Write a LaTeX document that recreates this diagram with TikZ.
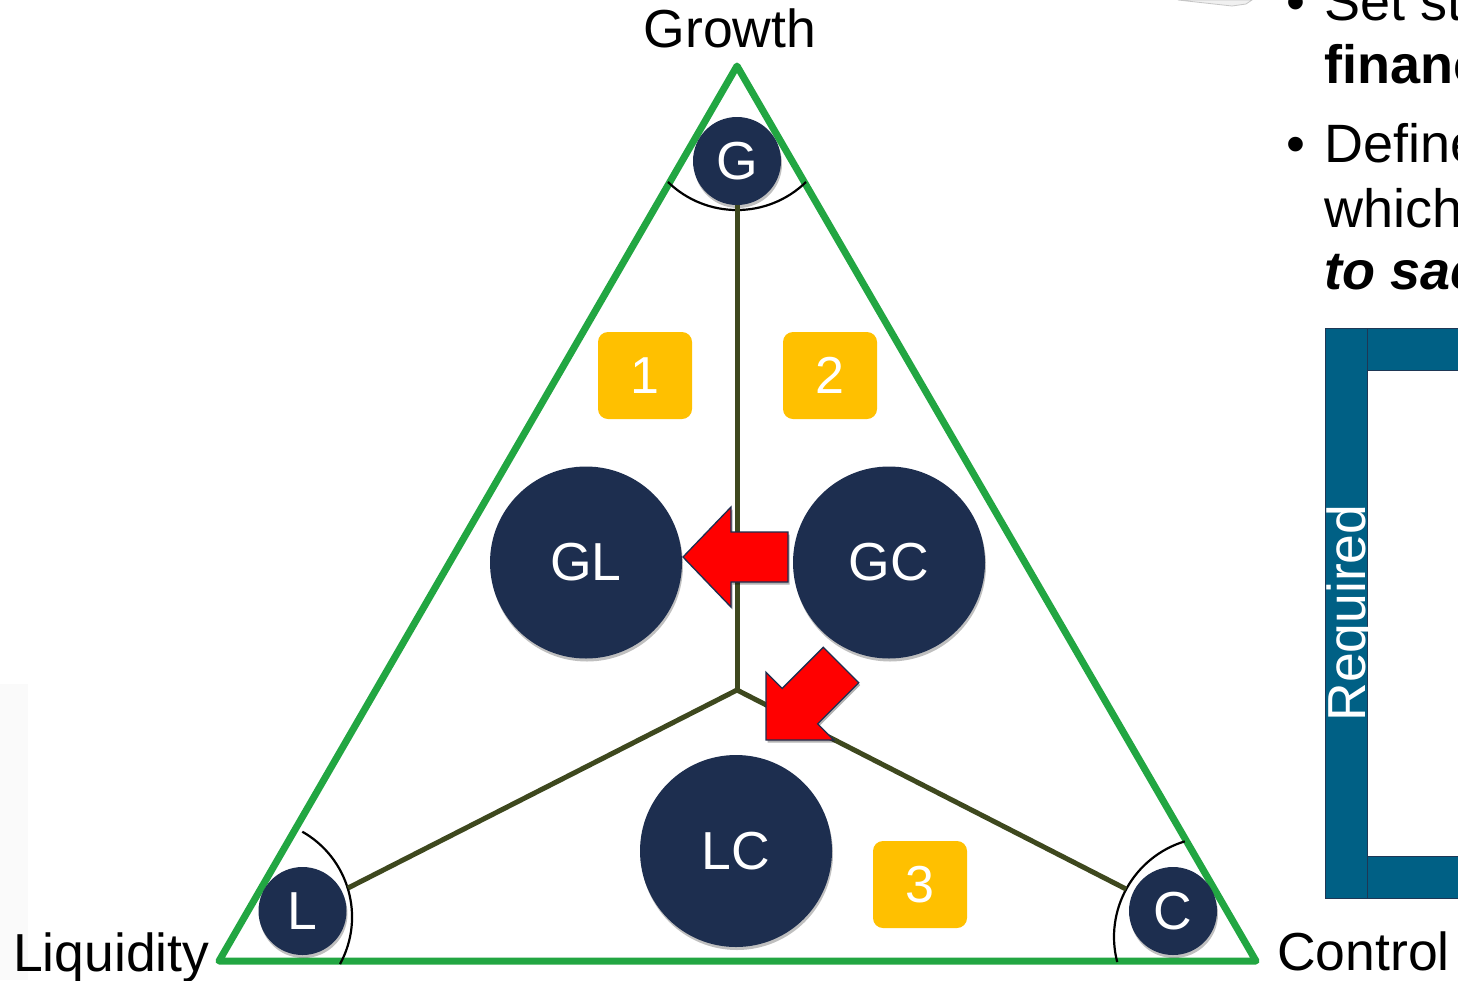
\documentclass[tikz,border=0pt]{standalone}
\usepackage{fontspec}
\setmainfont{Liberation Sans}
\usetikzlibrary{shadows}
\definecolor{tri}{RGB}{34,166,66}
\definecolor{navy}{RGB}{29,46,79}
\definecolor{olive}{RGB}{62,72,30}
\definecolor{gold}{RGB}{255,192,0}
\definecolor{barfill}{RGB}{0,96,133}
\definecolor{barline}{RGB}{30,55,85}
\begin{document}
\begin{tikzpicture}[x=1pt,y=-1pt,
  bigtext/.style={inner sep=0pt, font=\fontsize{53.5}{53.5}\selectfont},
  sidetext/.style={inner sep=0pt, anchor=base west, font=\fontsize{54}{54}\selectfont},
  dot/.style={circle, fill=navy, text=white, minimum size=88pt, inner sep=0pt,
    font=\fontsize{53.5}{53.5}\selectfont,
    drop shadow={shadow xshift=1pt, shadow yshift=-3pt, opacity=0.25, fill=black}},
  pairdot/.style={dot, minimum size=192pt},
  tagbox/.style={rectangle, rounded corners=10pt, fill=gold, text=white,
    minimum width=94pt, minimum height=87pt, inner sep=0pt,
    font=\fontsize{52}{52}\selectfont},
  yline/.style={olive, line width=5pt},
  arcline/.style={black, line width=2.2pt},
  redarrow/.style={fill=red, draw=navy, line width=1.3pt, line join=miter,
    drop shadow={shadow xshift=1.5pt, shadow yshift=-2.5pt, opacity=0.3, fill=black}},
  barrect/.style={fill=barfill, draw=barline, line width=1pt}
]
\useasboundingbox (0,0) rectangle (1458,980);
\clip (0,0) rectangle (1458,980);
\fill[white] (0,0) rectangle (1458,980);
% faint remnants at the edges
\fill[black!2] (0,684) rectangle (28,980);
\filldraw[fill=gray!12, draw=gray!45, line width=0.8pt] (1178,0) -- (1232,6) -- (1246,4) -- (1252,0) -- cycle;

% triangle
\coordinate (top) at (737,66);
\coordinate (bl) at (219,961);
\coordinate (br) at (1256,961);
\draw[tri, line width=7pt, line join=round] (top) -- (bl) -- (br) -- cycle;

% corner labels
\node[bigtext, anchor=base] (growth) at (730,47) {Growth};
\node[bigtext, anchor=base west] (liq) at (13,971) {Liquidity};
\node[bigtext, anchor=base west] (ctrl) at (1277,970) {Control};

% hub and arcs
\coordinate (hub) at (737,690);
\coordinate (lend) at (348,888);
\coordinate (cend) at (1126,889);
\draw[arcline] (806,182) arc[start angle=45.8, end angle=134.2, radius=99];
\draw[arcline] (302.3,831.7) arc[start angle=-60.5, end angle=28.7, radius=98];
\draw[arcline] (1117.2,962) arc[start angle=165.5, end angle=253, radius=100];

% corner circles
\node[dot] (G) at (737,161) {G};
\node[dot] (L) at (302.5,911) {L};
\node[dot] (C) at (1173,911) {C};

% Y lines
\draw[yline] (G.south) -- (hub);
\draw[yline] (hub) -- (lend);
\draw[yline] (hub) -- (cend);

% numbered tags
\node[tagbox] (t1) at (645,375.5) {1};
\node[tagbox] (t2) at (830,375.5) {2};
\node[tagbox] (t3) at (920,884.5) {3};

% pair circles
\node[pairdot] (GL) at (586,562.5) {GL};
\node[pairdot] (GC) at (889,562.5) {GC};
\node[pairdot] (LC) at (736,851) {LC};

% red block arrows
\path[redarrow] (683,557) -- (731,507) -- (731,532) -- (788,532) -- (788,582)
  -- (731,582) -- (731,607) -- cycle;
\path[redarrow] (766,740) -- (766,672.2) -- (782.2,688.4) -- (823.3,647.3)
  -- (858.7,682.7) -- (817.6,723.8) -- (833.8,740) -- cycle;

% Required panel
\path[barrect] (1367,328) rectangle (1470,370);
\path[barrect] (1367,856) rectangle (1470,898);
\path[barrect] (1325,328) rectangle (1367,898);
\node[bigtext, text=white, rotate=90, anchor=base] (req) at (1365,613) {Required};

% bullet text on the right
\node[sidetext] (b1) at (1286,20) {•};
\node[sidetext] (s1) at (1324,20) {Set st};
\node[sidetext, font=\fontsize{54}{54}\selectfont\bfseries] (s2) at (1324,83) {financ};
\node[sidetext] (b2) at (1286,162) {•};
\node[sidetext] (s3) at (1324,162) {Define};
\node[sidetext] (s4) at (1324,227) {which};
\node[sidetext, font=\fontsize{54}{54}\selectfont\bfseries\itshape] (s5) at (1324,289) {to sac};
\end{tikzpicture}
\end{document}
